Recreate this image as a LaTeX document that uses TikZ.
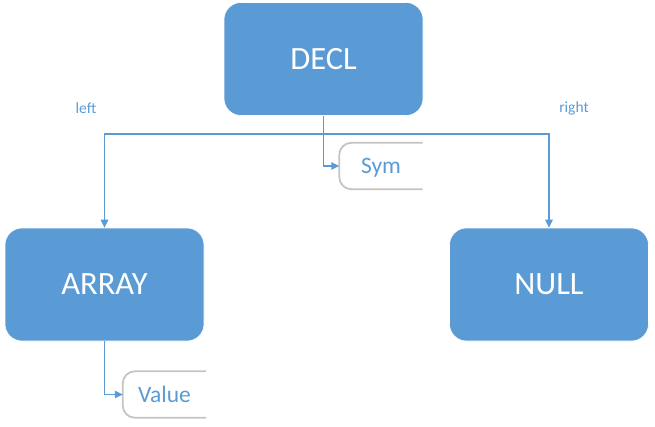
\documentclass[tikz,border=0pt]{standalone}
\usepackage{fontspec}
\setmainfont{Carlito}
\usepackage{tikz}
\usetikzlibrary{arrows.meta}
\definecolor{officeblue}{HTML}{5B9BD5}
\definecolor{calloutgray}{HTML}{C4C4C4}

\begin{document}
\begin{tikzpicture}[x=1pt,y=-1pt]
	\tikzset{
		treenode/.style={draw=white,line width=0.6pt,fill=officeblue,rounded corners=17pt,
			minimum width=199pt,minimum height=113pt,text=white,font=\fontsize{32.5}{32.5}\selectfont},
		fieldnode/.style={minimum width=83pt,minimum height=46pt,inner sep=0pt,text depth=0pt,
			text=officeblue,font=\fontsize{23.5}{23.5}\selectfont},
		field/.style={draw=calloutgray,line width=1.8pt,rounded corners=12pt},
		link/.style={draw=officeblue,line width=1.1pt,-{Triangle[length=8pt,width=7.5pt]}},
		side/.style={text=officeblue,font=\fontsize{15.5}{15.5}\selectfont}}
	\useasboundingbox (0,0) rectangle (655,426);
	\node[treenode](decl) at (323.5,59){DECL};
	\node[treenode](arr) at (104.5,284.5){ARRAY};
	\node[treenode](null) at (549,284.5){NULL};
	\node[fieldnode](sym) at (381,166){Sym};
	\node[fieldnode](val) at (164.5,394.5){Value};
	\draw[field](sym.north east)--(sym.north west)--(sym.south west)--(sym.south east);
	\draw[field](val.north east)--(val.north west)--(val.south west)--(val.south east);
	\draw[officeblue,line width=1.1pt](decl.south)--(decl.south|-0,134) coordinate(fork);
	\draw[link](fork)-|(arr.north);
	\draw[link](fork)-|(null.north);
	\draw[link](fork)|-(sym.west);
	\draw[link](arr.south)|-(val.west);
	\node[side](l) at (86,108){left};
	\node[side](r) at (574,108){right};
\end{tikzpicture}
\end{document}
